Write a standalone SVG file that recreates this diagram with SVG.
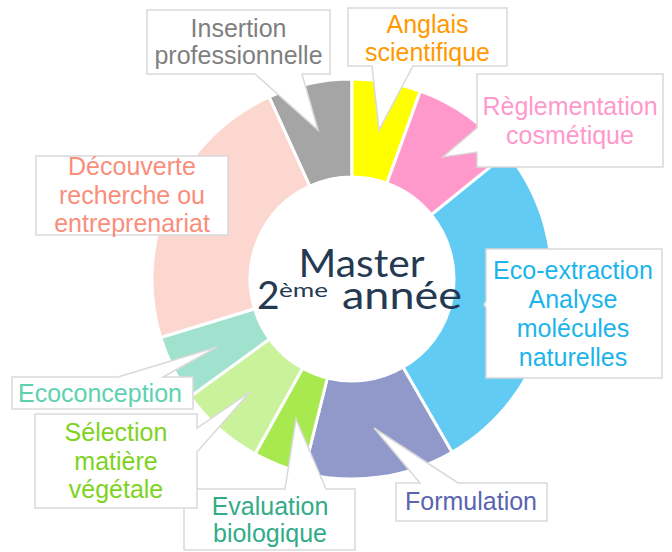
<svg xmlns="http://www.w3.org/2000/svg" width="672" height="552" viewBox="0 0 672 552">
<style>
.seg{stroke:#fff;stroke-width:3}
.box{fill:#fff;stroke:#D9D9D9;stroke-width:1.5}
.lbl{font-family:"Liberation Sans",Arial,sans-serif;font-size:25px;text-anchor:middle}
.ctr{font-family:Lato,"Open Sans",sans-serif;fill:#253A52;font-weight:400}
</style>
<rect width="672" height="552" fill="#fff"/>
<g id="donut">
<path id="seg-insertion" class="seg" fill="#A5A5A5" d="M269.1,97 A200,200 0 0 1 352,79 L352,177 A102,102 0 0 0 309.7,186.2 Z"/>
<path id="seg-anglais" class="seg" fill="#FFFF00" d="M352,79 A200,200 0 0 1 420.4,91.1 L386.9,183.2 A102,102 0 0 0 352,177 Z"/>
<path id="seg-reglementation" class="seg" fill="#FF99CC" d="M420.4,91.1 A200,200 0 0 1 507.4,153.1 L431.3,214.8 A102,102 0 0 0 386.9,183.2 Z"/>
<path id="seg-eco" class="seg" fill="#61CBF3" d="M507.4,153.1 A200,200 0 0 1 452,452.2 L403,367.3 A102,102 0 0 0 431.3,214.8 Z"/>
<path id="seg-formulation" class="seg" fill="#9099CA" d="M452,452.2 A200,200 0 0 1 303.6,473.1 L327.3,378 A102,102 0 0 0 403,367.3 Z"/>
<path id="seg-evaluation" class="seg" fill="#A8E94F" d="M303.6,473.1 A200,200 0 0 1 255,453.9 L302.6,368.2 A102,102 0 0 0 327.3,378 Z"/>
<path id="seg-selection" class="seg" fill="#CAF29A" d="M255,453.9 A200,200 0 0 1 190.2,396.6 L269.5,339 A102,102 0 0 0 302.6,368.2 Z"/>
<path id="seg-ecoconception" class="seg" fill="#A1E2CF" d="M190.2,396.6 A200,200 0 0 1 160.7,337.5 L254.5,308.8 A102,102 0 0 0 269.5,339 Z"/>
<path id="seg-decouverte" class="seg" fill="#FBD7D0" d="M160.7,337.5 A200,200 0 0 1 269.1,97 L309.7,186.2 A102,102 0 0 0 254.5,308.8 Z"/>
</g>
<g id="center">
<text class="ctr" x="298.5" y="277" font-size="39" textLength="126" lengthAdjust="spacingAndGlyphs">Master</text>
<text class="ctr" x="257" y="309" font-size="39">2</text>
<text class="ctr" x="279" y="296.5" font-size="20" textLength="49" lengthAdjust="spacingAndGlyphs">ème</text>
<text class="ctr" x="342" y="309" font-size="39" textLength="120" lengthAdjust="spacingAndGlyphs">année</text>
</g>
<g id="connectors"></g>
<g id="insertion">
<path class="box" d="M147,10 H330 V74 H302 L318,130 L255,74 H147 Z"/>
<text class="lbl" fill="#7F7F7F" x="238.5" y="36.7">Insertion</text>
<text class="lbl" fill="#7F7F7F" x="238.5" y="63.5">professionnelle</text>
</g>
<g id="anglais">
<path class="box" d="M348,8 H507 V66 H413 L379,130 L372,66 H348 Z"/>
<text class="lbl" fill="#FF9900" x="427.5" y="32.5">Anglais</text>
<text class="lbl" fill="#FF9900" x="427.5" y="61">scientifique</text>
</g>
<g id="reglementation">
<path class="box" d="M477,74 H663 V167 H477 V152 L443,157 L477,128 Z"/>
<text class="lbl" fill="#FF99CC" x="570" y="115">Règlementation</text>
<text class="lbl" fill="#FF99CC" x="570" y="144">cosmétique</text>
</g>
<g id="decouverte">
<path class="box" d="M36,156 H228 V235 H36 Z"/>
<text class="lbl" fill="#F98E7B" x="132" y="175">Découverte</text>
<text class="lbl" fill="#F98E7B" x="132" y="204">recherche ou</text>
<text class="lbl" fill="#F98E7B" x="132" y="232">entreprenariat</text>
</g>
<g id="eco-extraction">
<path class="box" d="M486,249 H662 V378 H486 V308 L484,304.5 L486,301 Z"/>
<text class="lbl" fill="#1CB4EA" x="573" y="279">Eco-extraction</text>
<text class="lbl" fill="#1CB4EA" x="573" y="308">Analyse</text>
<text class="lbl" fill="#1CB4EA" x="573" y="337">molécules</text>
<text class="lbl" fill="#1CB4EA" x="573" y="366">naturelles</text>
</g>
<g id="formulation">
<path class="box" d="M396,483 H420 L374,428 L458,483 H547 V521 H396 Z"/>
<text class="lbl" fill="#5A64B0" x="471" y="510">Formulation</text>
</g>
<g id="evaluation">
<path class="box" d="M184,489 H285 L296,419 L326,489 H355 V550 H184 Z"/>
<text class="lbl" fill="#32AC88" x="270" y="514.5">Evaluation</text>
<text class="lbl" fill="#32AC88" x="270" y="542">biologique</text>
</g>
<g id="selection">
<path class="box" d="M35,414 H197 V428 L250,392 L197,452 V508 H35 Z"/>
<text class="lbl" fill="#7ED321" x="116" y="441">Sélection</text>
<text class="lbl" fill="#7ED321" x="116" y="469.5">matière</text>
<text class="lbl" fill="#7ED321" x="116" y="497.5">végétale</text>
</g>
<g id="ecoconception">
<path class="box" d="M12,377 H118 L217,347 L163,377 H193 V409 H12 Z"/>
<text class="lbl" fill="#5ED2B0" x="100" y="401.5">Ecoconception</text>
</g>
</svg>
